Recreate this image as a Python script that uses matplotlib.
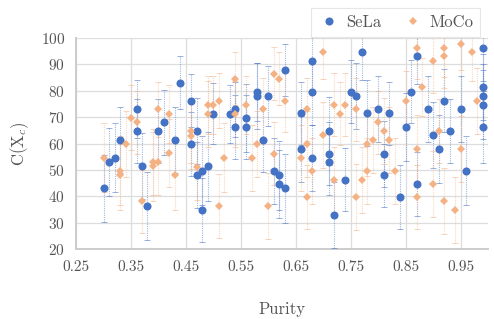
import matplotlib
matplotlib.use('Agg')
import matplotlib.pyplot as plt
from matplotlib.lines import Line2D

plt.rcParams['font.family'] = 'cmr10'
plt.rcParams['mathtext.fontset'] = 'cm'
plt.rcParams['axes.formatter.use_mathtext'] = True

# SeLa (blue circles)
sela_x = [0.30, 0.31, 0.32, 0.33, 0.36, 0.36, 0.37, 0.38, 0.40, 0.41,
          0.43, 0.44, 0.46, 0.46, 0.47, 0.47, 0.48, 0.48, 0.49, 0.50,
          0.53, 0.54, 0.54, 0.56, 0.56, 0.58, 0.58, 0.59, 0.60, 0.61,
          0.62, 0.62, 0.63, 0.63, 0.66, 0.66, 0.68, 0.68, 0.68, 0.71,
          0.71, 0.71, 0.72, 0.74, 0.75, 0.76, 0.77, 0.78, 0.80, 0.81,
          0.81, 0.82, 0.84, 0.85, 0.86, 0.87, 0.87, 0.89, 0.90, 0.91,
          0.92, 0.93, 0.95, 0.96, 0.99, 0.99, 0.99, 0.99, 0.99]
sela_y = [43.0, 53.0, 54.6, 61.4, 73.0, 64.8, 51.4, 36.4, 64.8, 68.0,
          61.4, 83.0, 76.3, 59.8, 64.8, 48.0, 49.7, 34.8, 51.4, 71.3,
          71.3, 73.0, 66.3, 69.7, 66.3, 79.7, 78.0, 61.4, 78.0, 49.7,
          48.0, 44.7, 87.9, 43.0, 71.4, 58.0, 91.3, 79.6, 54.6, 64.7,
          56.2, 53.0, 33.1, 46.3, 79.6, 78.0, 94.6, 71.4, 73.0, 56.2,
          48.0, 71.4, 39.8, 66.3, 79.6, 93.0, 44.7, 73.0, 63.1, 58.0,
          76.3, 64.7, 73.0, 49.7, 96.3, 81.3, 78.0, 74.7, 66.3]
sela_err = [12.7, 13.0, 13.0, 12.5, 11.0, 12.0, 12.5, 13.0, 12.0, 12.3,
            12.5, 10.0, 10.0, 12.0, 12.5, 12.5, 13.0, 12.0, 13.0, 11.5,
            11.0, 10.5, 12.0, 13.0, 12.0, 11.0, 12.5, 12.0, 11.5, 12.5,
            13.0, 13.0, 10.0, 13.0, 12.0, 12.5, 11.0, 12.5, 12.5, 13.0,
            12.0, 12.5, 12.5, 12.0, 12.0, 12.5, 10.5, 12.5, 12.5, 12.5,
            12.0, 12.0, 12.0, 13.0, 12.0, 10.5, 12.0, 12.5, 12.5, 13.0,
            12.0, 12.0, 12.5, 13.0, 12.5, 12.5, 12.0, 13.0, 13.5]

# MoCo (orange diamonds)
moco_x = [0.30, 0.33, 0.33, 0.34, 0.35, 0.36, 0.37, 0.39, 0.39, 0.40,
          0.40, 0.42, 0.42, 0.43, 0.46, 0.46, 0.47, 0.49, 0.49, 0.50,
          0.51, 0.51, 0.52, 0.54, 0.54, 0.56, 0.57, 0.58, 0.59, 0.60,
          0.61, 0.61, 0.62, 0.63, 0.66, 0.67, 0.67, 0.67, 0.68, 0.70,
          0.70, 0.72, 0.72, 0.73, 0.74, 0.76, 0.76, 0.77, 0.78, 0.78,
          0.79, 0.80, 0.81, 0.82, 0.83, 0.85, 0.87, 0.87, 0.87, 0.88,
          0.90, 0.90, 0.91, 0.92, 0.92, 0.92, 0.94, 0.95, 0.95, 0.97,
          0.98]
moco_y = [54.6, 49.7, 48.0, 59.7, 69.7, 68.0, 38.1, 53.1, 51.4, 53.0,
          73.0, 71.3, 56.4, 48.0, 64.7, 62.9, 51.3, 74.7, 71.3, 74.7,
          76.3, 36.4, 54.6, 84.6, 71.3, 74.7, 54.6, 59.7, 73.0, 36.4,
          86.4, 56.2, 84.6, 76.3, 54.6, 73.0, 59.7, 39.8, 49.7, 94.6,
          63.1, 74.7, 46.3, 71.3, 74.7, 73.0, 39.8, 46.3, 59.7, 49.7,
          61.3, 68.0, 64.7, 61.3, 49.7, 76.3, 96.3, 58.0, 39.8, 81.3,
          91.3, 44.7, 64.7, 96.3, 93.0, 38.1, 34.8, 97.9, 58.0, 94.6,
          76.3]
moco_err = [13.0, 13.0, 13.0, 12.5, 12.3, 12.0, 12.0, 12.5, 13.0, 12.5,
            10.5, 11.0, 13.0, 13.0, 12.0, 12.5, 12.5, 11.0, 12.5, 11.0,
            10.5, 12.0, 13.0, 10.0, 12.5, 11.0, 12.5, 12.5, 12.0, 12.5,
            10.0, 12.0, 10.0, 12.0, 12.5, 12.0, 12.5, 12.0, 12.5, 10.0,
            12.5, 12.0, 12.5, 12.0, 12.0, 12.0, 12.5, 12.5, 12.0, 12.5,
            12.5, 12.0, 12.5, 12.5, 12.5, 11.0, 12.0, 13.0, 12.0, 11.0,
            12.0, 12.5, 12.0, 11.0, 12.0, 12.5, 12.6, 10.0, 12.5, 11.0,
            12.5]

x_ticks = [0.25, 0.35, 0.45, 0.55, 0.65, 0.75, 0.85, 0.95]
x_tick_labels = ['0.25', '0.35', '0.45', '0.55', '0.65', '0.75', '0.85', '0.95']
y_ticks = [20, 30, 40, 50, 60, 70, 80, 90, 100]

blue = '#4472C4'
orange = '#F4B183'

fig = plt.figure(figsize=(4.94, 3.19), dpi=100)
ax = fig.add_axes([0.154, 0.219, 0.834, 0.662])

series = [(sela_x, sela_y, sela_err, blue, 'o', 5.8),
          (moco_x, moco_y, moco_err, orange, 'D', 3.6)]
for xs, ys, es, col, mk, ms in series:
    line, caps, bars = ax.errorbar(xs, ys, yerr=es, fmt=mk, color=col, ms=ms,
                                   ecolor=col, elinewidth=0.8, capsize=2,
                                   capthick=0.7, zorder=3)
    line.set_markeredgewidth(0)
    for b in bars:
        b.set_linestyle((0, (1, 1)))
        b.set_alpha(0.5)
    for c in caps:
        c.set_alpha(0.55)
        c.set_markeredgewidth(0.7)

ax.set_xlim(0.25, 1.0)
ax.set_ylim(20, 100)
ax.set_xticks(x_ticks)
ax.set_xticklabels(x_tick_labels)
ax.set_yticks(y_ticks)
ax.tick_params(length=0, labelsize=11, colors='#555555', pad=8)
ax.grid(True, color='#dddddd', linewidth=0.9, zorder=0)
ax.set_axisbelow(True)
for s in ['top', 'right']:
    ax.spines[s].set_visible(False)
for s in ['left', 'bottom']:
    ax.spines[s].set_color('#cccccc')
    ax.spines[s].set_linewidth(1.4)

ax.set_xlabel('Purity', fontsize=12, color='#555555', labelpad=20)
ax.set_ylabel(r'$\mathrm{C}(\mathrm{X}_c)$', fontsize=12, color='#555555')
ax.yaxis.set_label_coords(-0.11, 0.5)

handles = [Line2D([], [], ls='none', marker='o', ms=5.8, mew=0, color=blue),
           Line2D([], [], ls='none', marker='D', ms=3.6, mew=0, color=orange)]
leg = fig.legend(handles, ['SeLa', 'MoCo'], loc='upper right',
                 bbox_to_anchor=(0.989, 1.0), ncol=2, frameon=True,
                 fancybox=False, fontsize=12, edgecolor='#e0e0e0',
                 columnspacing=1.2, handletextpad=0.3, borderpad=0.4,
                 handlelength=1.4, labelcolor='#555555')
leg.get_frame().set_linewidth(0.8)

fig.savefig('out.png', dpi=100)
